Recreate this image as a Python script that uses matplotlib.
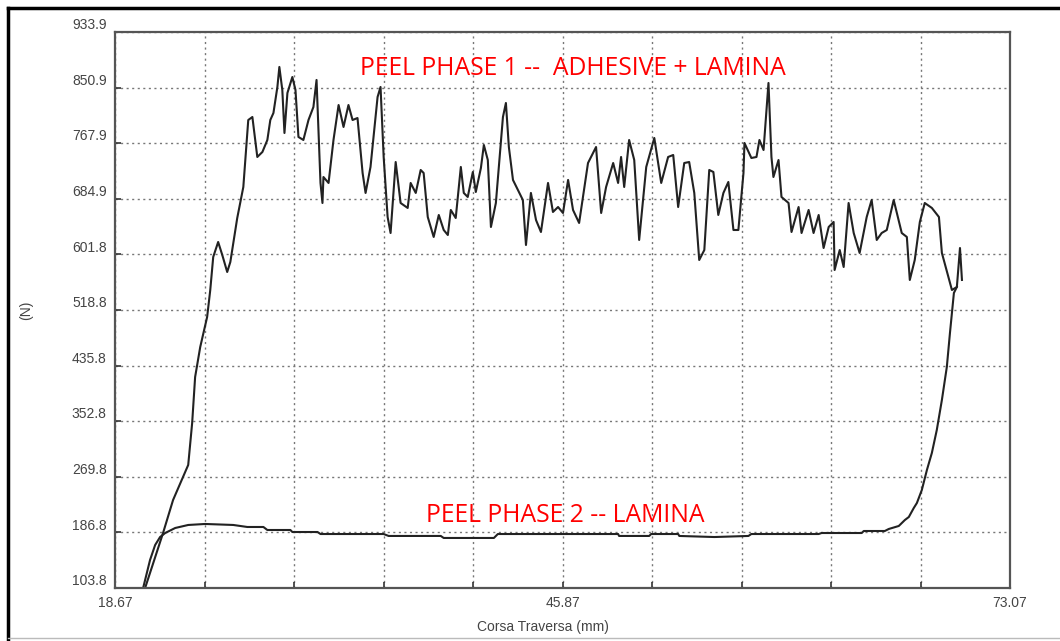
import numpy as np
import matplotlib
matplotlib.use("Agg")
import matplotlib.pyplot as plt
from matplotlib.lines import Line2D
from matplotlib.transforms import ScaledTranslation

# Peel test: force (N) vs crosshead travel (mm)
phase1_x = [20.50, 21.59, 22.20, 23.12, 23.36, 23.54, 23.85, 24.27, 24.46, 24.64,
            24.94, 25.19, 25.49, 25.68, 26.10, 26.47, 26.77, 27.02, 27.32, 27.63,
            27.93, 28.11, 28.30, 28.54, 28.66, 28.84, 28.97, 29.15, 29.45, 29.64,
            29.82, 30.12, 30.43, 30.73, 30.92, 31.16, 31.28, 31.34, 31.65, 31.95,
            32.26, 32.56, 32.86, 33.11, 33.41, 33.72, 33.90, 34.20, 34.63, 34.81,
            35.00, 35.24, 35.42, 35.73, 36.03, 36.46, 36.64, 36.95, 37.25, 37.43,
            37.68, 38.04, 38.35, 38.65, 38.90, 39.08, 39.38, 39.69, 39.87, 40.11,
            40.42, 40.60, 40.91, 41.09, 41.33, 41.52, 41.82, 42.25, 42.43, 42.61,
            42.86, 43.22, 43.46, 43.65, 43.95, 44.26, 44.56, 44.99, 45.29, 45.60,
            45.90, 46.21, 46.51, 46.88, 47.42, 47.91, 48.22, 48.52, 48.95, 49.25,
            49.43, 49.62, 49.92, 50.23, 50.53, 50.96, 51.45, 51.87, 52.29, 52.60,
            52.90, 53.27, 53.57, 53.88, 54.18, 54.49, 54.79, 55.04, 55.34, 55.65,
            55.95, 56.26, 56.56, 56.87, 56.93, 57.35, 57.66, 57.84, 58.09, 58.39,
            58.57, 58.69, 59.00, 59.18, 59.61, 59.79, 60.22, 60.40, 60.83, 61.13,
            61.44, 61.74, 62.05, 62.35, 62.41, 62.72, 62.96, 63.26, 63.57, 63.93,
            64.36, 64.66, 64.97, 65.27, 65.58, 66.00, 66.49, 66.80, 66.98, 67.28,
            67.59, 67.89, 68.32, 68.75, 68.93, 69.54, 69.84, 70.03, 70.15]
phase1_y = [103.8, 185.9, 235.2, 287.5, 350.2, 418.8, 463.6, 508.4, 548.7, 598.0,
            620.4, 601.0, 575.6, 590.5, 656.2, 702.5, 802.5, 807.0, 747.3, 754.8,
            772.7, 802.5, 813.0, 851.8, 881.7, 847.3, 783.1, 842.9, 866.7, 847.3,
            777.2, 772.7, 802.5, 821.9, 862.3, 708.5, 678.6, 717.4, 708.5, 772.7,
            824.9, 792.1, 824.9, 802.5, 805.5, 723.4, 693.6, 732.4, 836.9, 851.8,
            747.3, 657.7, 633.8, 739.8, 678.6, 671.2, 708.5, 693.6, 727.9, 723.4,
            657.7, 627.9, 660.7, 638.3, 630.8, 668.2, 656.2, 732.4, 693.6, 687.6,
            724.9, 695.0, 730.9, 765.2, 742.8, 642.8, 678.6, 807.0, 827.9, 762.2,
            713.0, 695.0, 683.1, 615.9, 693.6, 653.2, 635.3, 708.5, 665.2, 672.6,
            663.7, 713.0, 668.2, 648.8, 738.3, 762.2, 663.7, 702.5, 738.3, 708.5,
            747.3, 702.5, 772.7, 742.8, 623.4, 732.4, 775.7, 708.5, 747.3, 750.3,
            672.6, 738.3, 739.8, 693.6, 593.5, 608.4, 727.9, 724.9, 660.7, 693.6,
            710.0, 638.3, 638.3, 723.4, 768.2, 745.8, 747.3, 772.7, 757.7, 857.8,
            747.3, 717.4, 742.8, 687.6, 678.6, 635.3, 672.6, 633.8, 668.2, 633.8,
            660.7, 611.4, 642.8, 650.3, 578.6, 608.4, 583.1, 678.6, 633.8, 604.0,
            657.7, 683.1, 623.4, 633.8, 638.3, 683.1, 633.8, 627.9, 563.7, 593.5,
            650.3, 678.6, 671.2, 657.7, 604.0, 548.7, 553.2, 611.4, 563.7]

phase2_x = [20.38, 20.80, 21.11, 21.41, 21.72, 22.33, 23.12, 24.15, 25.86, 26.71,
            27.69, 27.93, 29.33, 29.45, 30.98, 31.16, 35.00, 35.30, 38.47, 38.65,
            41.70, 41.94, 49.25, 49.31, 51.14, 51.26, 52.90, 52.97, 55.10, 57.17,
            57.35, 61.44, 61.62, 64.06, 64.18, 65.46, 65.70, 66.31, 66.68, 66.92,
            67.22, 67.41, 67.71, 68.02, 68.32, 68.62, 68.93, 69.23, 69.42, 69.66,
            69.84]
phase2_y = [103.8, 145.6, 168.0, 179.9, 185.9, 193.4, 197.9, 199.4, 197.9, 194.9,
            194.9, 190.4, 190.4, 187.4, 187.4, 184.4, 184.4, 181.5, 181.5, 178.5,
            178.5, 184.4, 184.4, 181.5, 181.5, 184.4, 184.4, 181.5, 179.9, 181.5,
            184.4, 184.4, 185.9, 185.9, 188.9, 188.9, 191.9, 196.4, 205.3, 209.8,
            223.2, 230.7, 250.1, 280.0, 305.4, 339.7, 384.5, 433.8, 484.5, 544.3,
            553.2]

y_ticks = [103.8, 186.8, 269.8, 352.8, 435.8, 518.8, 601.8, 684.9, 767.9, 850.9, 933.9]
x_min, x_max = 18.67, 73.07
x_labels = {0: "18.67", 5: "45.87", 10: "73.07"}

tick_font = "Liberation Sans"

fig = plt.figure(figsize=(10.6, 6.41), dpi=100)
ax = fig.add_axes([115 / 1060, 1 - 588 / 641, 895 / 1060, 556 / 641])

ax.plot(phase1_x, phase1_y, color="#222222", lw=1.5)
ax.plot(phase2_x, phase2_y, color="#222222", lw=1.5)

ax.set_xlim(x_min, x_max)
ax.set_ylim(y_ticks[0], y_ticks[-1])

x_ticks = np.linspace(x_min, x_max, 11)
ax.set_xticks(x_ticks)
ax.set_xticklabels([x_labels.get(i, "") for i in range(11)])
ax.set_yticks(y_ticks)
ax.set_yticklabels([f"{v:.1f}" for v in y_ticks])

ax.grid(True, color="#777777", linestyle=(0, (1.5, 2.5)), lw=1)
ax.tick_params(direction="in", length=4, width=1.2, color="#333333",
               labelsize=10, labelcolor="#444444", pad=6)
for lab in ax.get_xticklabels() + ax.get_yticklabels():
    lab.set_family(tick_font)
for lab in ax.get_yticklabels():
    lab.set_transform(lab.get_transform() + ScaledTranslation(0, 6 / 72, fig.dpi_scale_trans))

for s in ax.spines.values():
    s.set_color("#555555")
    s.set_linewidth(1.6)

ax.set_xlabel("Corsa Traversa (mm)", family=tick_font, fontsize=10, color="#444444")
ax.xaxis.set_label_coords(0.478, -0.058)
ax.set_ylabel("(N)", family=tick_font, fontsize=10, color="#444444")
ax.yaxis.set_label_coords(-0.092, 0.5)

ax.text(0.512, 0.935, "PEEL PHASE 1 --  ADHESIVE + LAMINA", transform=ax.transAxes,
        color="red", fontsize=17.8, ha="center", va="center", family="Open Sans")
ax.text(0.503, 0.131, "PEEL PHASE 2 -- LAMINA", transform=ax.transAxes,
        color="red", fontsize=17.8, ha="center", va="center", family="Open Sans")

# outer frame of the screenshot
fig.add_artist(Line2D([8 / 1060, 1], [1 - 8 / 641, 1 - 8 / 641], color="black", lw=2.5))
fig.add_artist(Line2D([8 / 1060, 8 / 1060], [0, 1 - 8 / 641], color="black", lw=2.5))
fig.add_artist(Line2D([8 / 1060, 1], [3 / 641, 3 / 641], color="#bbbbbb", lw=1))

fig.savefig("out.png", dpi=100)
